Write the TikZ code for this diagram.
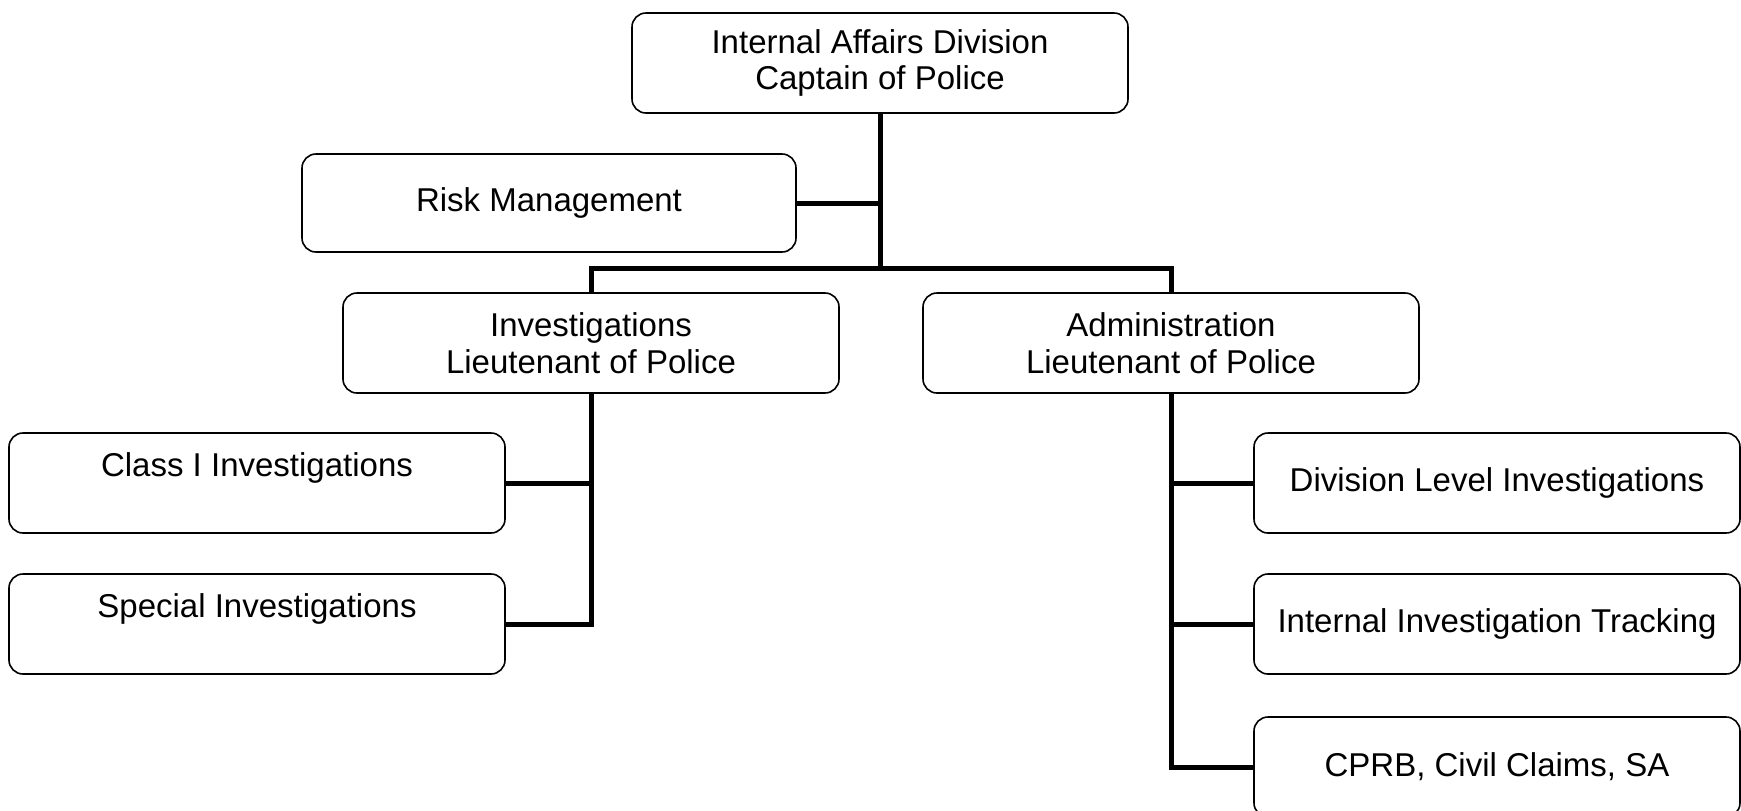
\documentclass[tikz,border=0pt]{standalone}
\usepackage{fontspec}
\setmainfont{Liberation Sans}
\usepackage{tikz}
\usetikzlibrary{positioning}

\tikzset{
  unit/.style={draw,rounded corners=7pt,line width=0.8pt,minimum width=248pt,
    minimum height=50pt,align=center,font=\fontsize{16.5}{18.3}\selectfont},
  link/.style={line width=2.5pt}
}

\begin{document}
\begin{tikzpicture}[x=0.5pt,y=-0.5pt]
		\clip (0,0) rectangle (1741,810);
		\node[unit] (IAD) at (880,63) {Internal Affairs Division\\Captain of Police};
		\node[unit,minimum width=247pt,minimum height=49pt] (RM) at (549,203) {Risk Management};
		\node[unit] (Inv) at (591,343) {Investigations\\Lieutenant of Police};
		\node[unit] (Adm) at (1171,343) {Administration\\Lieutenant of Police};
		\node[unit] (CI) at (257,483) {Class I Investigations\\\mbox{}};
		\node[unit] (SI) at (257,624) {Special Investigations\\\mbox{}};
		\node[unit,minimum width=243pt] (DLI) at (1497,483) {Division Level Investigations};
		\node[unit,minimum width=243pt] (IIT) at (1497,624) {Internal Investigation Tracking};
		\node[unit,minimum width=243pt] (CPRB) at (1497,767) {CPRB, Civil Claims, SA};
		\coordinate (bus) at (880,268);
		%
		% top level
		\draw[link] (IAD.south) -- (bus);
		\draw[link] (RM.east) -- (RM.east -| IAD.south);
		\draw[link] (Inv.north) |- (bus) -| (Adm.north);
		% left branch
		\draw[link] (Inv.south) |- (CI.east);
		\draw[link] (Inv.south) |- (SI.east);
		% right branch
		\draw[link] (Adm.south) |- (DLI.west);
		\draw[link] (Adm.south) |- (IIT.west);
		\draw[link] (Adm.south) |- (CPRB.west);
\end{tikzpicture}
\end{document}
